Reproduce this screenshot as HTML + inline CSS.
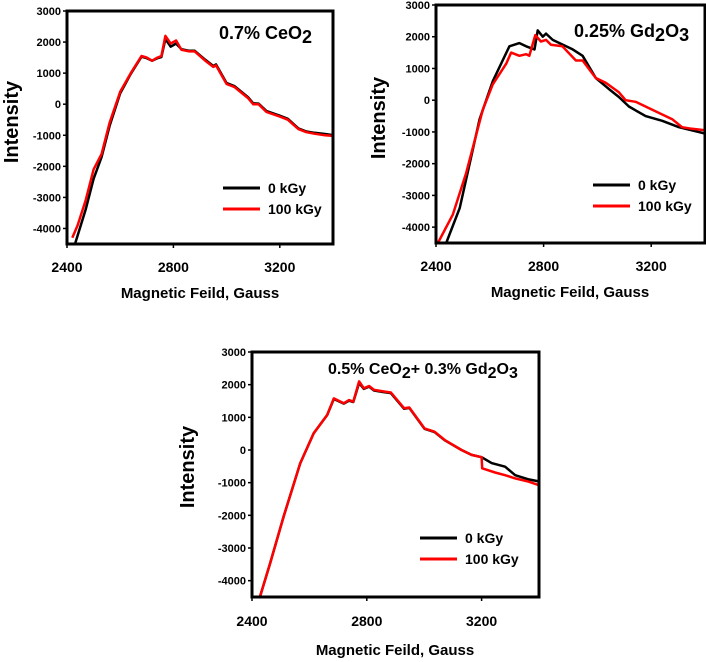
<!DOCTYPE html>
<html><head><meta charset="utf-8"><style>
html,body{margin:0;padding:0;background:#fff;}
svg{display:block;font-family:"Liberation Sans",Arial,sans-serif;font-weight:bold;}
</style></head><body>
<svg id="fig" width="706" height="662" viewBox="0 0 706 662" xmlns="http://www.w3.org/2000/svg"></svg>
<script>
const xTicks = [2400, 2800, 3200];
const yTicks = [3000, 2000, 1000, 0, -1000, -2000, -3000, -4000];
const seriesNames = ["0 kGy", "100 kGy"];
const p1Black = [[2430,-4500],[2470,-3400],[2500,-2400],[2530,-1700],[2560,-700],[2600,350],[2640,980],[2680,1530],[2700,1480],[2720,1400],[2740,1480],[2755,1520],[2770,2100],[2790,1850],[2810,1950],[2830,1770],[2860,1720],[2880,1720],[2920,1430],[2950,1230],[2960,1280],[3000,680],[3030,580],[3080,230],[3100,30],[3120,20],[3150,-220],[3200,-370],[3230,-470],[3270,-780],[3300,-880],[3330,-920],[3370,-960],[3405,-1000]];
const p1Red = [[2420,-4300],[2440,-3900],[2470,-3100],[2500,-2100],[2530,-1600],[2560,-600],[2600,400],[2640,1000],[2680,1550],[2700,1500],[2720,1400],[2740,1500],[2755,1550],[2770,2200],[2790,1950],[2810,2050],[2830,1750],[2860,1700],[2880,1700],[2920,1400],[2950,1200],[2960,1250],[3000,650],[3030,550],[3080,200],[3100,0],[3120,0],[3150,-250],[3200,-400],[3230,-500],[3270,-800],[3300,-900],[3330,-950],[3370,-1000],[3405,-1020]];
const p2Black = [[2438,-4500],[2488,-3400],[2562,-600],[2611,600],[2673,1700],[2710,1800],[2735,1700],[2766,1600],[2778,2200],[2797,2000],[2809,2100],[2834,1900],[2859,1800],[2908,1600],[2945,1400],[2994,700],[3043,350],[3080,100],[3117,-200],[3179,-500],[3241,-650],[3303,-850],[3400,-1050]];
const p2Red = [[2407,-4500],[2463,-3600],[2512,-2300],[2574,-300],[2611,500],[2661,1150],[2679,1500],[2710,1400],[2735,1450],[2747,1400],[2769,2050],[2790,1850],[2809,1900],[2827,1750],[2870,1700],[2920,1250],[2945,1250],[2994,700],[3031,550],[3080,250],[3105,0],[3142,-50],[3204,-300],[3278,-600],[3315,-850],[3352,-900],[3400,-950]];
const p3Black = [[2426,-4540],[2463,-3470],[2510,-2040],[2568,-410],[2615,510],[2662,1070],[2685,1560],[2720,1420],[2738,1510],[2753,1470],[2773,2050],[2790,1870],[2808,1940],[2825,1820],[2860,1770],[2884,1740],[2930,1260],[2948,1290],[3001,650],[3036,550],[3071,300],[3130,0],[3165,-150],[3200,-220],[3235,-400],[3282,-510],[3317,-770],[3364,-900],[3405,-970]];
const p3Red = [[2426,-4540],[2463,-3470],[2510,-2040],[2568,-410],[2615,510],[2662,1070],[2685,1580],[2720,1430],[2738,1530],[2753,1480],[2773,2100],[2790,1890],[2808,1960],[2825,1840],[2860,1790],[2884,1760],[2930,1280],[2948,1300],[3001,660],[3036,560],[3071,310],[3130,0],[3165,-150],[3200,-220],[3202,-560],[3247,-690],[3282,-770],[3317,-870],[3364,-970],[3405,-1090]];

const NS="http://www.w3.org/2000/svg";
const svg=document.getElementById('fig');
function mk(tag,attrs,parent){const e=document.createElementNS(NS,tag);for(const k in attrs)e.setAttribute(k,attrs[k]);(parent||svg).appendChild(e);return e;}

const panels=[
 {name:'panel-ceo2',L:67,R:333,T:11,B:244,black:p1Black,red:p1Red,title:['0.7% CeO','2',''],tx:219,ty:39,tfs:18,yl:[18,122],xl:[200,298],leg:[223,188],xlabY:267},
 {name:'panel-gd2o3',L:436,R:705,T:5,B:243,black:p2Black,red:p2Red,title:['0.25% Gd','2','O','3'],tx:574,ty:37,tfs:18,yl:[385,118],xl:[570,297],leg:[593,185],xlabY:266},
 {name:'panel-ceo2-gd2o3',L:252,R:539,T:352,B:597,black:p3Black,red:p3Red,title:['0.5% CeO','2','+ 0.3% Gd','2','O','3'],tx:328,ty:374,tfs:16,yl:[194,467],xl:[395,655],leg:[420,538],xlabY:621}
];
panels.forEach(p=>{
 const g=mk('g',{});
 
 
 const xs=v=>p.L+(v-2400)/(3400-2400)*(p.R-p.L);
 const ys=v=>p.T+(3000-v)/(7500)*(p.B-p.T);
 const cp=mk('clipPath',{id:'c'+p.name},g);
 mk('rect',{x:p.L,y:p.T,width:p.R-p.L,height:p.B-p.T},cp);
 yTicks.forEach(t=>{
  const y=ys(t);
  const tk=mk('line',{x1:p.L-4,x2:p.L,y1:y,y2:y,stroke:'#000','stroke-width':1.5},g);
  
  
  const tl=mk('text',{x:p.L-6,y:y+4,'text-anchor':'end','font-size':11},g);
  tl.textContent=t;
  
  
 });
 xTicks.forEach(t=>{
  const x=xs(t);
  const tk=mk('line',{x1:x,x2:x,y1:p.B,y2:p.B+4,stroke:'#000','stroke-width':1.5},g);
  
  
  const tl=mk('text',{x:x,y:p.xlabY+5,'text-anchor':'middle','font-size':14},g);
  tl.textContent=t;
  
  
 });
 [[p.black,'#000','series-0-kgy'],[p.red,'#f00','series-100-kgy']].forEach(([d,c,n])=>{
  const pl=mk('polyline',{points:d.map(q=>xs(q[0]).toFixed(1)+','+ys(q[1]).toFixed(1)).join(' '),fill:'none',stroke:c,'stroke-width':2.5,'stroke-linejoin':'round','clip-path':'url(#c'+p.name+')'},g);
  
  
 });
 const fr=mk('rect',{x:p.L,y:p.T,width:p.R-p.L,height:p.B-p.T,fill:'none',stroke:'#000','stroke-width':3},g);
 
 
 const t=mk('text',{x:p.tx,y:p.ty,'font-size':p.tfs},g);
 
 
 p.title.forEach((s,i)=>{if(!s)return;const ts=mk('tspan',{},t);ts.textContent=s;if(i%2==1){ts.setAttribute('dy',4);}else if(i>0){ts.setAttribute('dy',-4);}});
 const yl=mk('text',{x:p.yl[0],y:p.yl[1],'text-anchor':'middle','font-size':20,transform:'rotate(-90 '+p.yl[0]+' '+p.yl[1]+')'},g);
 yl.textContent='Intensity';
 
 
 const xl=mk('text',{x:p.xl[0],y:p.xl[1],'text-anchor':'middle','font-size':15},g);
 xl.textContent='Magnetic Feild, Gauss';
 
 
 seriesNames.forEach((s,i)=>{
  const y=p.leg[1]+i*21;
  const ln=mk('line',{x1:p.leg[0],x2:p.leg[0]+37,y1:y,y2:y,stroke:i?'#f00':'#000','stroke-width':3},g);
  
  
  const lt=mk('text',{x:p.leg[0]+45,y:y+5,'font-size':14},g);
  lt.textContent=s;
  
  
 });
});
</script>
</body></html>
